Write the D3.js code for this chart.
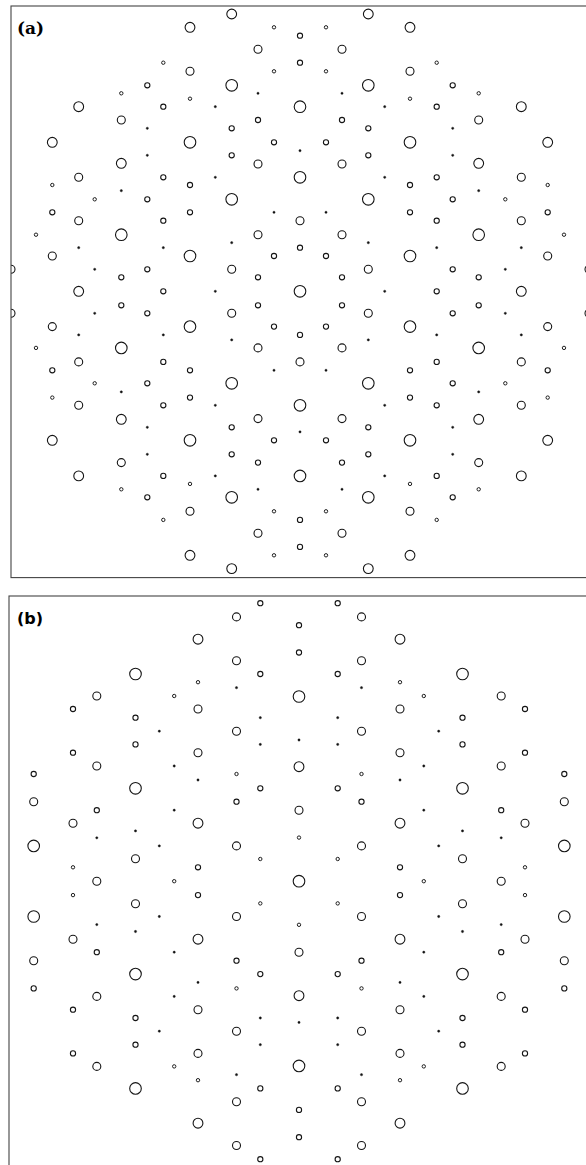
<!DOCTYPE html>
<html lang="en">
<head>
<meta charset="UTF-8">
<title>Diffraction patterns</title>
<style>
    body {
        margin: 0;
        padding: 0;
        background-color: #fff;
    }
    svg {
        display: block;
    }
</style>
</head>
<body>
<div id="chart"></div>
<script src="https://cdn.jsdelivr.net/npm/d3@7/dist/d3.min.js"></script>
<script>

// spot positions [dx, dy] from the pattern centre, grouped by intensity (1 = strongest)

// ---- pattern (a) ----
const aLevel1 = [
    [0, 0], [0, 114], [0, -114], [0, 184.6], [0, -184.6],
    [68.3, 92], [-68.3, 92], [68.3, -92], [-68.3, -92],
    [110, 35.3], [-110, 35.3], [110, -35.3], [-110, -35.3],
    [178.7, 56.6], [-178.7, 56.6], [178.7, -56.6], [-178.7, -56.6],
    [110, 149], [-110, 149], [110, -149], [-110, -149],
    [68.3, 206], [-68.3, 206], [68.3, -206], [-68.3, -206]
];
const aLevel2 = [
    [68.3, 277.3], [-68.3, 277.3], [68.3, -277.3], [-68.3, -277.3],
    [110, 264], [-110, 264], [110, -264], [-110, -264],
    [221.3, 184.6], [-221.3, 184.6], [221.3, -184.6], [-221.3, -184.6],
    [247.7, 149], [-247.7, 149], [247.7, -149], [-247.7, -149],
    [178.7, 128], [-178.7, 128], [178.7, -128], [-178.7, -128],
    [221.3, 0], [-221.3, 0]
];
const aLevel3 = [
    [0, 70.6], [0, -70.6],
    [42, 242], [-42, 242], [42, -242], [-42, -242],
    [110, 220], [-110, 220], [110, -220], [-110, -220],
    [178.7, 171.3], [-178.7, 171.3], [178.7, -171.3], [-178.7, -171.3],
    [42, 127.3], [-42, 127.3], [42, -127.3], [-42, -127.3],
    [221.3, 114], [-221.3, 114], [221.3, -114], [-221.3, -114],
    [221.3, 70.6], [-221.3, 70.6], [221.3, -70.6], [-221.3, -70.6],
    [42, 56.6], [-42, 56.6], [42, -56.6], [-42, -56.6],
    [247.7, 35.3], [-247.7, 35.3], [247.7, -35.3], [-247.7, -35.3],
    [68.3, 22], [-68.3, 22], [68.3, -22], [-68.3, -22],
    [289, 22], [-289, 22], [289, -22], [-289, -22]
];
const aLevel4 = [
    [0, 255.6], [0, -255.6], [0, 228.6], [0, -228.6], [0, 43.6], [0, -43.6],
    [136.7, 0], [-136.7, 0],
    [152.7, 206], [-152.7, 206], [152.7, -206], [-152.7, -206],
    [136.7, 184.6], [-136.7, 184.6], [136.7, -184.6], [-136.7, -184.6],
    [42, 171.3], [-42, 171.3], [42, -171.3], [-42, -171.3],
    [68.3, 163], [-68.3, 163], [68.3, -163], [-68.3, -163],
    [26, 149], [-26, 149], [26, -149], [-26, -149],
    [68.3, 136], [-68.3, 136], [68.3, -136], [-68.3, -136],
    [110, 106.3], [-110, 106.3], [110, -106.3], [-110, -106.3],
    [136.7, 114], [-136.7, 114], [136.7, -114], [-136.7, -114],
    [152.7, 92], [-152.7, 92], [152.7, -92], [-152.7, -92],
    [110, 79], [-110, 79], [110, -79], [-110, -79],
    [247.7, 79], [-247.7, 79], [247.7, -79], [-247.7, -79],
    [136.7, 70.6], [-136.7, 70.6], [136.7, -70.6], [-136.7, -70.6],
    [26, 35.3], [-26, 35.3], [26, -35.3], [-26, -35.3],
    [152.7, 22], [-152.7, 22], [152.7, -22], [-152.7, -22],
    [42, 14], [-42, 14], [42, -14], [-42, -14],
    [178.7, 14], [-178.7, 14], [178.7, -14], [-178.7, -14]
];
const aLevel5 = [
    [26, 264], [-26, 264], [26, -264], [-26, -264],
    [26, 220], [-26, 220], [26, -220], [-26, -220],
    [136.7, 228.6], [-136.7, 228.6], [136.7, -228.6], [-136.7, -228.6],
    [178.7, 198], [-178.7, 198], [178.7, -198], [-178.7, -198],
    [110, 192.6], [-110, 192.6], [110, -192.6], [-110, -192.6],
    [247.7, 106.3], [-247.7, 106.3], [247.7, -106.3], [-247.7, -106.3],
    [205.3, 92], [-205.3, 92], [205.3, -92], [-205.3, -92],
    [264, 56.6], [-264, 56.6], [264, -56.6], [-264, -56.6]
];
const aLevel6 = [
    [0, 140.6], [0, -140.6], [84.7, 0], [-84.7, 0],
    [42, 198], [-42, 198], [42, -198], [-42, -198],
    [84.7, 184.6], [-84.7, 184.6], [84.7, -184.6], [-84.7, -184.6],
    [152.7, 163], [-152.7, 163], [152.7, -163], [-152.7, -163],
    [152.7, 136], [-152.7, 136], [152.7, -136], [-152.7, -136],
    [84.7, 114], [-84.7, 114], [84.7, -114], [-84.7, -114],
    [178.7, 100.6], [-178.7, 100.6], [178.7, -100.6], [-178.7, -100.6],
    [26, 79], [-26, 79], [26, -79], [-26, -79],
    [68.3, 48.6], [-68.3, 48.6], [68.3, -48.6], [-68.3, -48.6],
    [136.7, 43.6], [-136.7, 43.6], [136.7, -43.6], [-136.7, -43.6],
    [221.3, 43.6], [-221.3, 43.6], [221.3, -43.6], [-221.3, -43.6],
    [205.3, 22], [-205.3, 22], [205.3, -22], [-205.3, -22]
];

// ---- pattern (b) ----
const bLevel1 = [
    [0, 0], [0, 184.7], [0, -184.7],
    [163.5, 207.2], [-163.5, 207.2], [163.5, -207.2], [-163.5, -207.2],
    [163.5, 92.9], [-163.5, 92.9], [163.5, -92.9], [-163.5, -92.9],
    [265.3, 35.3], [-265.3, 35.3], [265.3, -35.3], [-265.3, -35.3]
];
const bLevel2 = [
    [0, 114.5], [0, -114.5],
    [101, 242], [-101, 242], [101, -242], [-101, -242],
    [101, 58], [-101, 58], [101, -58], [-101, -58]
];
const bLevel3 = [
    [0, 71], [0, -71], [202.2, 0], [-202.2, 0],
    [62.5, 264.3], [-62.5, 264.3], [62.5, -264.3], [-62.5, -264.3],
    [62.5, 220.5], [-62.5, 220.5], [62.5, -220.5], [-62.5, -220.5],
    [202.2, 185.2], [-202.2, 185.2], [202.2, -185.2], [-202.2, -185.2],
    [101, 172.2], [-101, 172.2], [101, -172.2], [-101, -172.2],
    [62.5, 150], [-62.5, 150], [62.5, -150], [-62.5, -150],
    [101, 128.5], [-101, 128.5], [101, -128.5], [-101, -128.5],
    [202.2, 115.2], [-202.2, 115.2], [202.2, -115.2], [-202.2, -115.2],
    [265.3, 79.5], [-265.3, 79.5], [265.3, -79.5], [-265.3, -79.5],
    [226, 58], [-226, 58], [226, -58], [-226, -58],
    [62.5, 35.3], [-62.5, 35.3], [62.5, -35.3], [-62.5, -35.3],
    [163.5, 22.5], [-163.5, 22.5], [163.5, -22.5], [-163.5, -22.5]
];
const bLevel4 = [
    [0, 256], [0, -256], [0, 228.7], [0, -228.7],
    [38.7, 278], [-38.7, 278], [38.7, -278], [-38.7, -278],
    [38.7, 207.2], [-38.7, 207.2], [38.7, -207.2], [-38.7, -207.2],
    [226, 172.2], [-226, 172.2], [226, -172.2], [-226, -172.2],
    [163.5, 163.5], [-163.5, 163.5], [163.5, -163.5], [-163.5, -163.5],
    [163.5, 136.8], [-163.5, 136.8], [163.5, -136.8], [-163.5, -136.8],
    [226, 128.5], [-226, 128.5], [226, -128.5], [-226, -128.5],
    [265.3, 107.2], [-265.3, 107.2], [265.3, -107.2], [-265.3, -107.2],
    [38.7, 92.9], [-38.7, 92.9], [38.7, -92.9], [-38.7, -92.9],
    [62.5, 79.5], [-62.5, 79.5], [62.5, -79.5], [-62.5, -79.5],
    [202.2, 71], [-202.2, 71], [202.2, -71], [-202.2, -71],
    [101, 13.9], [-101, 13.9], [101, -13.9], [-101, -13.9]
];
const bLevel5 = [
    [0, 43.6], [0, -43.6], [124.8, 0], [-124.8, 0],
    [101, 199], [-101, 199], [101, -199], [-101, -199],
    [124.8, 185.2], [-124.8, 185.2], [124.8, -185.2], [-124.8, -185.2],
    [62.5, 107.2], [-62.5, 107.2], [62.5, -107.2], [-62.5, -107.2],
    [38.7, 22.2], [-38.7, 22.2], [38.7, -22.2], [-38.7, -22.2],
    [226, 13.9], [-226, 13.9], [226, -13.9], [-226, -13.9]
];
const bLevel6 = [
    [0, 141.2], [0, -141.2],
    [62.5, 193.5], [-62.5, 193.5], [62.5, -193.5], [-62.5, -193.5],
    [38.7, 163.5], [-38.7, 163.5], [38.7, -163.5], [-38.7, -163.5],
    [139.7, 150], [-139.7, 150], [139.7, -150], [-139.7, -150],
    [38.7, 136.8], [-38.7, 136.8], [38.7, -136.8], [-38.7, -136.8],
    [124.8, 115.2], [-124.8, 115.2], [124.8, -115.2], [-124.8, -115.2],
    [101, 101.2], [-101, 101.2], [101, -101.2], [-101, -101.2],
    [124.8, 71], [-124.8, 71], [124.8, -71], [-124.8, -71],
    [163.5, 50.3], [-163.5, 50.3], [163.5, -50.3], [-163.5, -50.3],
    [202.2, 43.4], [-202.2, 43.4], [202.2, -43.4], [-202.2, -43.4],
    [139.7, 35.3], [-139.7, 35.3], [139.7, -35.3], [-139.7, -35.3]
];

const panelLabels = ['(a)', '(b)'];

// layout
const W = 586, H = 1165;
const radii = [5.8, 4.9, 4.0, 2.6, 1.7, 1.15];

const panels = [
    {
        label: panelLabels[0], levels: [aLevel1, aLevel2, aLevel3, aLevel4, aLevel5, aLevel6],
        x0: 11, x1: 590, y0: 6, y1: 577.6, cx: 300, cy: 291.3,
        font: "'DejaVu Serif', 'Liberation Serif', serif", fontSize: 17, ly: 33.5
    },
    {
        label: panelLabels[1], levels: [bLevel1, bLevel2, bLevel3, bLevel4, bLevel5, bLevel6],
        x0: 9, x1: 590, y0: 596, y1: 1166.4, cx: 299, cy: 881.2,
        font: "'DejaVu Sans', 'Liberation Sans', sans-serif", fontSize: 16, ly: 624
    }
];

const svg = d3.select('#chart')
    .append('svg')
    .attr('width', W)
    .attr('height', H);

panels.forEach((p, i) => {
    // 1 data unit = 1 px, origin at the pattern centre
    const xScale = d3.scaleLinear()
        .domain([p.x0 - p.cx, p.x1 - p.cx])
        .range([p.x0, p.x1]);
    const yScale = d3.scaleLinear()
        .domain([p.cy - p.y1, p.cy - p.y0])
        .range([p.y1, p.y0]);

    svg.append('clipPath')
        .attr('id', 'clip' + i)
        .append('rect')
        .attr('x', p.x0).attr('y', p.y0)
        .attr('width', p.x1 - p.x0).attr('height', p.y1 - p.y0);

    const g = svg.append('g').attr('clip-path', 'url(#clip' + i + ')');

    p.levels.forEach((spots, k) => {
        const filled = k === radii.length - 1;
        g.selectAll('circle.l' + k)
            .data(spots)
            .enter()
            .append('circle')
            .attr('class', 'l' + k)
            .attr('cx', d => xScale(d[0]))
            .attr('cy', d => yScale(d[1]))
            .attr('r', radii[k])
            .attr('fill', filled ? '#111' : 'none')
            .attr('stroke', '#151515')
            .attr('stroke-width', filled ? 0.4 : (k === 4 ? 0.95 : 1.1));
    });

    // frame
    svg.append('rect')
        .attr('x', p.x0).attr('y', p.y0)
        .attr('width', p.x1 - p.x0).attr('height', p.y1 - p.y0)
        .attr('fill', 'none')
        .attr('stroke', '#444')
        .attr('stroke-width', 1.1);

    svg.append('text')
        .attr('x', 17)
        .attr('y', p.ly)
        .style('font-family', p.font)
        .style('font-weight', 'bold')
        .style('font-size', p.fontSize + 'px')
        .attr('fill', '#000')
        .text(p.label);
});

</script>
</body>
</html>
